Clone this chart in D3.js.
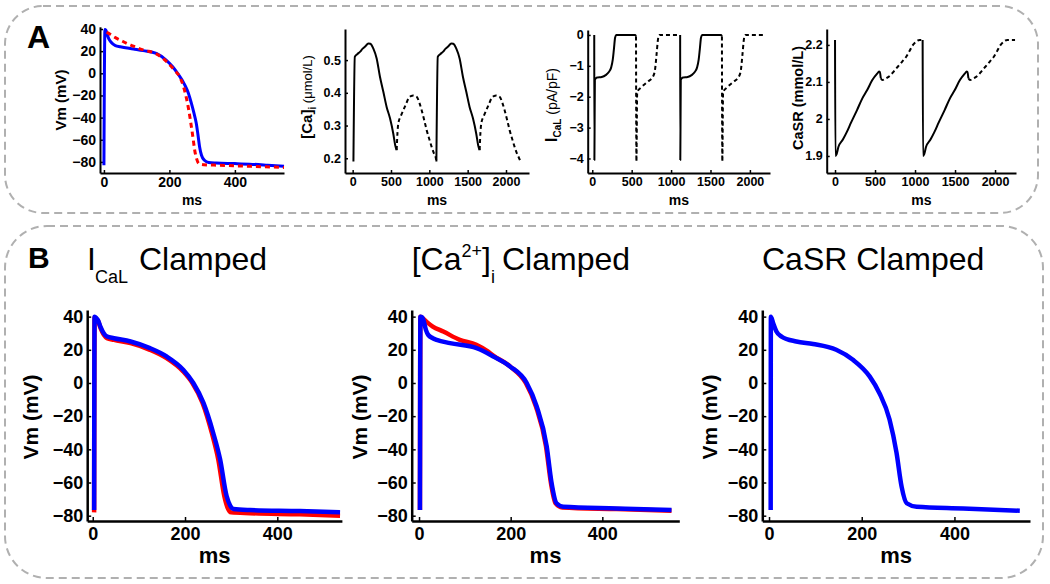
<!DOCTYPE html>
<html><head><meta charset="utf-8">
<script src="https://cdn.jsdelivr.net/npm/d3@7"></script>
<style>
body{margin:0;background:#fff}
svg{display:block}
text{font-family:"Liberation Sans",Arial,Helvetica,sans-serif;fill:#000}
</style>
</head><body>
<svg id="c" width="1050" height="584"></svg>
<script>
// ---------------- DATA ----------------
// Panel A1: Vm (mV) vs ms
const a1VmBlue = [[0,-83],[3,39.5],[6,39],[10,35],[15,31],[22,28],[35,25],[50,24],[90,22],[120,20.5],[160,18],[190,12],[210,6],[225,0],[246,-10],[258,-18],[267,-27],[275,-36],[282,-45],[287,-55],[292,-66],[298,-74],[307,-78.5],[320,-80.5],[343,-81],[400,-81.5],[445,-82],[500,-83],[550,-84]];
const a1VmRed = [[8,37],[12,36.5],[20,35],[30,33],[50,30],[70,27],[90,24.5],[110,22],[130,20.5],[160,17.5],[190,11],[215,3],[231,-3],[243,-12],[251,-21],[259,-33],[267,-48],[272,-58],[277,-69],[283,-77],[290,-81.5],[305,-82.5],[350,-83],[450,-84],[550,-85]];
// Panel A2: [Ca]i (umol/L)
const a2CaSolid1 = [[10,0.19],[28,0.51],[60,0.518],[95,0.525],[130,0.535],[160,0.541],[205,0.551],[230,0.55],[270,0.535],[313,0.505],[356,0.449],[400,0.403],[443,0.357],[487,0.322],[530,0.275],[555,0.24],[574,0.225]];
const a2CaDashed1 = [[574,0.225],[585,0.28],[595,0.306],[630,0.33],[661,0.347],[700,0.368],[726,0.382],[760,0.39],[791,0.392],[835,0.388],[870,0.37],[900,0.347],[935,0.315],[965,0.286],[1000,0.258],[1030,0.235],[1060,0.215],[1082,0.204],[1090,0.195]];
const a2CaSolid2 = [[1092,0.19],[1110,0.51],[1142,0.518],[1177,0.525],[1212,0.535],[1242,0.541],[1287,0.551],[1312,0.55],[1352,0.535],[1395,0.505],[1438,0.449],[1482,0.403],[1525,0.357],[1569,0.322],[1612,0.275],[1637,0.24],[1656,0.225]];
const a2CaDashed2 = [[1656,0.225],[1667,0.28],[1677,0.306],[1712,0.33],[1743,0.347],[1782,0.368],[1808,0.382],[1842,0.39],[1873,0.392],[1917,0.388],[1952,0.37],[1982,0.347],[2017,0.315],[2047,0.286],[2082,0.258],[2112,0.235],[2142,0.215],[2164,0.204],[2190,0.19]];
// Panel A3: ICaL (pA/pF)
const a3ISolid1 = [[25,0],[27,-4.05],[33,-1.45],[60,-1.38],[120,-1.36],[170,-1.3],[210,-1.2],[240,-1.05],[260,-0.8],[275,-0.45],[290,-0.08],[305,0],[545,0],[555,-0.05]];
const a3IDashed1 = [[555,-0.05],[560,-4.1],[570,-1.85],[620,-1.7],[700,-1.52],[770,-1.35],[795,-1.15],[815,-0.65],[835,-0.12],[850,0],[1080,0]];
const a3ISolid2 = [[1115,0],[1117,-4.05],[1123,-1.45],[1150,-1.38],[1210,-1.36],[1260,-1.3],[1300,-1.2],[1330,-1.05],[1350,-0.8],[1365,-0.45],[1380,-0.08],[1395,0],[1635,0],[1645,-0.05]];
const a3IDashed2 = [[1645,-0.05],[1650,-4.1],[1660,-1.85],[1710,-1.7],[1790,-1.52],[1860,-1.35],[1885,-1.15],[1905,-0.65],[1925,-0.12],[1940,0],[2190,0]];
// Panel A4: CaSR (mmol/L)
const a4SrSolid1 = [[0,2.213],[5,1.9],[20,1.905],[42,1.924],[100,1.945],[148,1.965],[200,1.99],[275,2.024],[340,2.055],[402,2.078],[466,2.105],[529,2.123],[550,2.128],[560,2.127],[572,2.11]];
const a4SrDashed1 = [[572,2.11],[593,2.105],[640,2.11],[699,2.119],[740,2.13],[784,2.141],[840,2.155],[890,2.168],[935,2.185],[975,2.2],[1020,2.21],[1059,2.2135],[1095,2.2135]];
const a4SrSolid2 = [[1095,2.2135],[1100,1.9],[1115,1.905],[1137,1.924],[1195,1.945],[1243,1.965],[1295,1.99],[1370,2.024],[1435,2.055],[1497,2.078],[1561,2.105],[1624,2.123],[1645,2.128],[1655,2.127],[1667,2.11]];
const a4SrDashed2 = [[1667,2.11],[1688,2.105],[1735,2.11],[1794,2.119],[1835,2.13],[1879,2.141],[1935,2.155],[1985,2.168],[2030,2.185],[2070,2.2],[2115,2.21],[2154,2.2135],[2250,2.2135]];
// Panel B: Vm (mV) under each clamp
const b1Red = [[3,-78],[4,39.5],[8,38.5],[12,37],[17,33],[24,29],[31,27],[46,26],[82,24],[124,20],[160,15],[196,7],[216,0],[238,-12],[258,-30],[272,-46],[285,-68],[292,-75],[300,-78],[341,-78.5],[449,-79.2],[536,-80]];
const b1Blue = [[3,-76.5],[4,40],[8,39],[11,38],[16.6,34],[23.8,30],[31,28],[46,27],[82,25],[124,21],[160,16],[196,8],[218,0],[240,-12],[261,-30],[276,-46],[290,-68],[298,-74],[305,-76],[341,-76.6],[449,-77.2],[536,-78]];
const b2Red = [[2,-76.5],[3,40],[8,39],[16,37],[30,34],[53,31],[89,26],[125,23],[150,19],[162,16.5],[198.6,10],[233,0],[255,-14],[277,-38],[288,-60.5],[298,-72.5],[313,-75],[431,-76],[551,-77]];
const b2Blue = [[2,-76.5],[3,40],[7,39.5],[9.5,38],[15,32],[20,29],[30,27],[38.5,26],[67.6,24],[125.7,21],[162,16],[198.6,10],[235,0],[256.6,-14],[278.5,-38],[289.4,-60.5],[300,-72.5],[315,-74.6],[431,-75.6],[551,-76.6]];
const b3Blue = [[3.6,-76.5],[4,40],[9,36],[16,31],[27,28],[59,25],[95,23.5],[145,20],[181,14],[217,4],[238,-6],[260,-22],[275,-42],[286,-62.5],[297,-72.5],[318.6,-74.6],[419,-75.6],[541,-77]];

// tick labels / ticks
const vmTicks = [-80,-60,-40,-20,0,20,40];
const apTimeTicks = [0,200,400];
const longTimeTicks = [0,500,1000,1500,2000];
const caTicks = [0.2,0.3,0.4,0.5];
const icalTicks = [-4,-3,-2,-1,0];
const casrTicks = [1.9,2,2.1,2.2];
const panelLetters = ["A","B"];
const bTitles = ["Clamped"];

// ---------------- DRAW ----------------
const svg = d3.select("#c");

svg.append("rect").attr("x",5).attr("y",6).attr("width",1033).attr("height",207).attr("rx",38).attr("ry",38)
  .attr("fill","none").attr("stroke","#b0b0b0").attr("stroke-width",2).attr("stroke-dasharray","8,5");
svg.append("rect").attr("x",5).attr("y",226).attr("width",1038).attr("height",352).attr("rx",42).attr("ry",42)
  .attr("fill","none").attr("stroke","#b0b0b0").attr("stroke-width",2).attr("stroke-dasharray","8,5");

svg.append("text").attr("x",27).attr("y",48).attr("font-size",32).attr("font-weight","bold").text(panelLetters[0]);
svg.append("text").attr("x",28).attr("y",268).attr("font-size",30).attr("font-weight","bold").text(panelLetters[1]);

function panel(o){
  const x = d3.scaleLinear().domain(o.xDomain).range([o.left,o.right]);
  const y = d3.scaleLinear().domain(o.yDomain).range([o.bottom,o.top]);
  const g = svg.append("g");
  const xa = g.append("g").attr("transform",`translate(0,${o.bottom})`)
    .call(d3.axisBottom(x).tickValues(o.xTicks).tickSizeInner(-o.tick).tickSizeOuter(0).tickPadding(o.padX).tickFormat(d3.format("d")));
  const ya = g.append("g").attr("transform",`translate(${o.left},0)`)
    .call(d3.axisLeft(y).tickValues(o.yTicks).tickSizeInner(-o.tick).tickSizeOuter(0).tickPadding(o.padY).tickFormat(o.yFmt));
  [xa,ya].forEach(a=>{
    a.select(".domain").attr("stroke","#000").attr("stroke-width",o.axisW);
    a.selectAll(".tick line").attr("stroke","#000").attr("stroke-width",1.5);
    a.selectAll(".tick text").attr("font-size",o.tickFont).attr("font-weight","bold")
      .attr("font-family","'Liberation Sans',Arial,sans-serif").attr("fill","#000");
  });
  const line = d3.line().x(d=>x(d[0])).y(d=>y(d[1])).curve(d3.curveMonotoneX);
  o.series.forEach(s=>{
    g.append("path").attr("d",line(s.data)).attr("fill","none").attr("stroke",s.color)
      .attr("stroke-width",s.w).attr("stroke-dasharray",s.dash||null).attr("stroke-linejoin","round");
  });
  g.append("text").attr("x",(o.left+o.right)/2).attr("y",o.msY).attr("text-anchor","middle")
    .attr("font-size",o.msFont).attr("font-weight","bold").text("ms");
  return {x,y,g};
}

// A1
panel({xDomain:[-12,550],yDomain:[-90,42],left:100,right:284,top:26.8,bottom:173,
  xTicks:apTimeTicks,yTicks:vmTicks,yFmt:d3.format("d"),tick:3,padX:4,padY:4,axisW:2,tickFont:14,msFont:14,msY:205,
  series:[{data:a1VmBlue,color:"#0000ff",w:3},{data:a1VmRed,color:"#ff0000",w:3,dash:"5,4"}]});
// A2
panel({xDomain:[-100,2300],yDomain:[0.155,0.595],left:345,right:529,top:29,bottom:173,
  xTicks:longTimeTicks,yTicks:caTicks,yFmt:d3.format(".1f"),tick:3,padX:4,padY:4,axisW:2,tickFont:12.5,msFont:14,msY:205,
  series:[{data:a2CaSolid1,color:"#000",w:2},{data:a2CaDashed1,color:"#000",w:2,dash:"4,3"},
          {data:a2CaSolid2,color:"#000",w:2},{data:a2CaDashed2,color:"#000",w:2,dash:"4,3"}]});
// A3
panel({xDomain:[-58,2255],yDomain:[-4.47,0.16],left:587.7,right:770,top:30,bottom:173,
  xTicks:longTimeTicks,yTicks:icalTicks,yFmt:d3.format("d"),tick:3,padX:4,padY:4,axisW:2,tickFont:12.5,msFont:14,msY:205,
  series:[{data:a3ISolid1,color:"#000",w:2},{data:a3IDashed1,color:"#000",w:2,dash:"4,3"},
          {data:a3ISolid2,color:"#000",w:2},{data:a3IDashed2,color:"#000",w:2,dash:"4,3"}]});
// A4
panel({xDomain:[-104,2262],yDomain:[1.854,2.243],left:826.7,right:1016,top:29,bottom:173,
  xTicks:longTimeTicks,yTicks:casrTicks,yFmt:d3.format("~f"),tick:3,padX:4,padY:4,axisW:2,tickFont:12.5,msFont:14,msY:205,
  series:[{data:a4SrSolid1,color:"#000",w:2},{data:a4SrDashed1,color:"#000",w:2,dash:"4,3"},
          {data:a4SrSolid2,color:"#000",w:2},{data:a4SrDashed2,color:"#000",w:2,dash:"4,3"}]});

// B panels
const bCommon = {yDomain:[-83.2,44],top:310,bottom:521,xTicks:apTimeTicks,yTicks:vmTicks,yFmt:d3.format("d"),
  tick:4,padX:6,padY:4,axisW:2.5,tickFont:18,msFont:22,msY:563};
panel(Object.assign({},bCommon,{xDomain:[-12,540],left:87.2,right:341.9,
  series:[{data:b1Red,color:"#ff0000",w:4.5},{data:b1Blue,color:"#0000ff",w:4.5}]}));
panel(Object.assign({},bCommon,{xDomain:[-16,568],left:411.7,right:679.3,
  series:[{data:b2Red,color:"#ff0000",w:4.5},{data:b2Blue,color:"#0000ff",w:4.5}]}));
panel(Object.assign({},bCommon,{xDomain:[-14.5,563],left:762.3,right:1030,
  series:[{data:b3Blue,color:"#0000ff",w:4.5}]}));

function ylab(cx,cy,parts){
  const t = svg.append("text").attr("transform",`translate(${cx},${cy}) rotate(-90)`).attr("text-anchor","middle").attr("dy","0.35em");
  parts.forEach(p=>{
    const s = t.append("tspan").text(p.t).attr("font-size",p.fs).attr("font-weight",p.fw||"bold");
    if(p.dy) s.attr("dy",p.dy);
  });
}
ylab(60,100,[{t:"Vm (mV)",fs:15}]);
ylab(306,97,[{t:"[Ca]",fs:15},{t:"i",fs:10,dy:4},{t:" (\u03bcmol/L)",fs:13,fw:"normal",dy:-4}]);
ylab(551,105,[{t:"I",fs:16},{t:"CaL",fs:10,dy:4},{t:" (pA/pF)",fs:14,fw:"normal",dy:-4}]);
ylab(797,98,[{t:"CaSR (mmol/L)",fs:14.5}]);
ylab(32,417,[{t:"Vm (mV)",fs:21}]);
ylab(361,417,[{t:"Vm (mV)",fs:21}]);
ylab(711,417,[{t:"Vm (mV)",fs:21}]);

const t1 = svg.append("text").attr("y",270).attr("font-size",32);
t1.append("tspan").attr("x",87).text("I");
t1.append("tspan").attr("x",95).attr("dy",13).attr("font-size",18).text("CaL");
t1.append("tspan").attr("x",139).attr("dy",-13).text(bTitles[0]);

const t2 = svg.append("text").attr("y",270).attr("font-size",32);
t2.append("tspan").attr("x",411.7).text("[Ca");
t2.append("tspan").attr("dy",-13).attr("font-size",18).text("2+");
t2.append("tspan").attr("dy",13).text("]");
t2.append("tspan").attr("dy",13).attr("font-size",18).text("i");
t2.append("tspan").attr("x",502).attr("dy",-13).text(bTitles[0]);

svg.append("text").attr("x",762).attr("y",270).attr("font-size",32).text("CaSR " + bTitles[0]);
</script>
</body></html>
